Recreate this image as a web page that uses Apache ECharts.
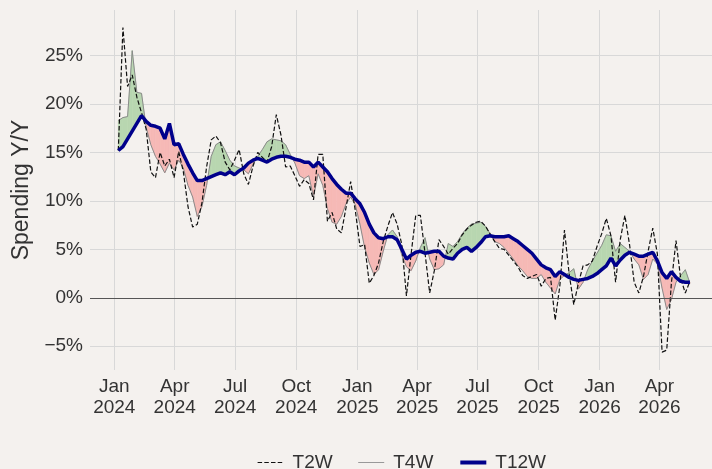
<!DOCTYPE html>
<html>
<head>
<meta charset="utf-8">
<script src="https://cdn.jsdelivr.net/npm/echarts@6/dist/echarts.min.js"></script>
<style>
html,body{margin:0;padding:0;background:#f4f1ee;}
#chart{width:712px;height:469px;}
</style>
</head>
<body>
<div id="chart"></div>
<script>
// ---- data (weekly, first week ending 2024-01-07) ----
const firstWeek = '2024-01-07';
const t2w = [15.2,27.9,21.8,23.0,20.7,19.1,17.4,13.0,12.4,15.0,13.6,14.3,12.4,15.1,13.0,9.4,7.3,7.6,9.8,13.5,
16.3,16.7,16.0,14.0,13.2,14.2,15.3,12.8,11.7,13.6,15.0,14.5,14.0,15.6,18.9,16.8,13.5,13.6,12.6,11.5,
12.2,11.8,10.1,14.8,14.8,7.9,8.8,7.1,6.7,9.3,12.0,9.0,5.3,5.5,1.5,2.3,3.6,5.8,7.4,8.8,
7.6,5.5,0.2,4.5,8.5,8.5,4.6,0.5,2.8,6.0,5.3,4.5,5.1,5.6,6.5,7.1,7.5,7.8,7.9,7.4,
6.6,5.8,5.1,5.0,4.4,3.8,3.2,2.3,2.0,2.2,2.4,1.2,2.0,2.1,-2.3,1.2,7.0,2.5,-0.7,1.5,
3.3,3.4,3.8,5.3,6.6,8.2,6.4,1.6,6.0,8.5,5.5,1.6,0.5,2.2,4.8,7.2,4.5,-5.6,-5.4,1.5,
5.9,2.0,0.5,1.7];
const t4w = [18.3,18.6,18.7,25.5,21.2,21.1,17.6,15.8,14.6,13.8,12.9,13.9,13.2,14.2,13.4,11.6,10.4,8.4,9.4,11.6,
14.6,15.8,16.1,15.2,14.2,13.6,13.4,13.2,12.8,13.8,14.6,15.3,16.1,16.4,16.3,16.2,15.8,14.8,13.9,12.6,
12.3,12.6,10.4,12.8,11.6,9.2,7.8,7.6,8.4,9.7,10.4,9.6,7.6,5.2,3.6,2.4,2.9,4.8,6.5,7.0,
6.3,4.4,3.2,2.8,3.8,5.2,6.2,4.0,2.9,3.0,3.4,5.6,5.3,5.8,6.6,7.2,7.6,7.7,7.8,7.4,
6.6,5.8,5.6,5.2,4.6,4.0,3.3,2.8,2.2,2.0,2.0,2.4,1.6,1.0,0.4,1.9,2.3,2.6,3.0,0.9,
1.6,2.9,3.8,4.6,5.4,6.5,6.4,4.8,5.6,5.2,4.8,4.0,3.4,1.9,2.4,4.0,3.5,1.0,-1.2,-0.2,
1.6,2.3,2.9,1.5];
const t12w = [15.2,15.6,16.4,17.2,18.0,18.8,18.2,17.8,17.7,17.5,16.4,18.0,15.8,15.9,14.8,13.8,12.9,12.1,12.1,12.3,
12.5,12.7,12.9,12.7,13.0,12.7,13.1,13.4,13.9,14.2,14.4,14.2,14.0,14.3,14.5,14.6,14.6,14.5,14.3,14.2,
14.0,14.0,13.5,14.0,13.5,13.0,12.3,11.7,11.2,10.8,10.8,10.2,9.7,8.8,7.6,6.7,6.2,6.1,6.3,6.3,
6.0,5.0,4.0,4.4,4.7,4.8,4.6,4.7,4.8,4.8,4.3,4.1,4.0,4.6,5.0,5.2,4.8,5.2,5.7,6.3,
6.4,6.3,6.3,6.3,6.4,6.1,5.8,5.4,5.0,4.6,4.0,3.4,3.1,2.9,2.2,2.7,2.4,2.1,1.9,1.8,
1.9,2.0,2.2,2.5,2.9,3.3,4.1,3.3,3.9,4.4,4.7,4.5,4.3,4.3,4.5,4.7,3.8,2.6,2.0,2.7,
2.1,1.7,1.6,1.6];
const xTickDates = ['2024-01-01','2024-04-01','2024-07-01','2024-10-01','2025-01-01','2025-04-01','2025-07-01','2025-10-01','2026-01-01','2026-04-01'];
const xTickLabels = ['Jan\n2024','Apr\n2024','Jul\n2024','Oct\n2024','Jan\n2025','Apr\n2025','Jul\n2025','Oct\n2025','Jan\n2026','Apr\n2026'];
const yTicks = [-5,0,5,10,15,20,25];

// ---- helpers ----
const DAY = 86400000;
const origin = Date.UTC(2024,0,1);
function dayOf(s){ const p = s.split('-').map(Number); return (Date.UTC(p[0],p[1]-1,p[2]) - origin)/DAY; }
const start = dayOf(firstWeek);
const weeks = t12w.map((_, i) => new Date(origin + (start + i*7)*DAY).toISOString().slice(0,10));
const xs = weeks.map(dayOf);
const tickDays = xTickDates.map(dayOf);

const GREEN = '#b8d6b0';
const RED = '#f6b9b6';
const FONT = '"Liberation Sans", Arial, sans-serif';

const fillData = xs.slice(0, -1).map((x, i) => [x, t12w[i], i]);

const chart = echarts.init(document.getElementById('chart'), null, {renderer: 'canvas'});
chart.setOption({
  backgroundColor: '#f4f1ee',
  animation: false,
  textStyle: {fontFamily: FONT},
  grid: {left: 90, right: 0, top: 10, bottom: 99},
  legend: {
    left: 252, top: 448,
    itemWidth: 26, itemHeight: 14, itemGap: 25,
    itemStyle: {opacity: 0},
    textStyle: {fontSize: 19, color: '#333', fontFamily: FONT, padding: [0, 0, 0, 4]},
    data: [
      {name: 'T2W', lineStyle: {width: 1.2}},
      {name: 'T4W', lineStyle: {width: 1, color: '#999'}},
      {name: 'T12W', lineStyle: {width: 4}}
    ]
  },
  xAxis: {
    type: 'value', min: -36.6, max: 900.2,
    axisLine: {show: false},
    axisTick: {show: false, customValues: tickDays},
    splitLine: {show: true, lineStyle: {color: '#d8d8d8', width: 1}},
    axisLabel: {
      customValues: tickDays, margin: 6,
      fontSize: 19, color: '#333', lineHeight: 21, fontFamily: FONT,
      formatter: v => { const k = tickDays.findIndex(t => Math.abs(t - v) < 0.01); return k >= 0 ? xTickLabels[k] : ''; }
    }
  },
  yAxis: {
    type: 'value', min: -7.45, max: 29.7,
    name: 'Spending Y/Y', nameLocation: 'middle', nameGap: 51,
    nameTextStyle: {fontSize: 23, color: '#333', fontFamily: FONT},
    axisLine: {show: false},
    axisTick: {show: false, customValues: yTicks},
    splitLine: {show: true, lineStyle: {color: '#d8d8d8', width: 1}},
    axisLabel: {
      customValues: yTicks, margin: 7,
      fontSize: 19, color: '#333', fontFamily: FONT,
      formatter: v => (v < 0 ? '\u2212' : '') + Math.abs(v) + '%'
    }
  },
  series: [
    {
      type: 'custom', name: 'fill', z: 1, clip: true, silent: true,
      data: fillData, encode: {x: 0, y: 1},
      renderItem: function (params, api) {
        const i = api.value(2);
        const x0 = xs[i], x1 = xs[i + 1];
        const a4 = t4w[i], b4 = t4w[i + 1], a12 = t12w[i], b12 = t12w[i + 1];
        const d0 = a4 - a12, d1 = b4 - b12;
        const P = (x, y) => api.coord([x, y]);
        const polys = [];
        if (d0 * d1 >= 0) {
          polys.push({pts: [P(x0, a4), P(x1, b4), P(x1, b12), P(x0, a12)], up: (d0 + d1) >= 0});
        } else {
          const f = d0 / (d0 - d1);
          const xc = x0 + f * (x1 - x0), yc = a12 + f * (b12 - a12);
          polys.push({pts: [P(x0, a4), P(xc, yc), P(x0, a12)], up: d0 > 0});
          polys.push({pts: [P(xc, yc), P(x1, b4), P(x1, b12)], up: d1 > 0});
        }
        return {
          type: 'group',
          children: polys.map(p => ({
            type: 'polygon', shape: {points: p.pts},
            style: {fill: p.up ? GREEN : RED, stroke: p.up ? GREEN : RED, lineWidth: 0.6}
          }))
        };
      }
    },
    {
      name: 'T2W', type: 'line', z: 3, symbol: 'none', showSymbol: false,
      data: xs.map((x, i) => [x, t2w[i]]),
      lineStyle: {color: '#111', width: 1.2, type: [4.5, 2.2]},
      itemStyle: {color: '#111'},
      markLine: {
        silent: true, symbol: 'none', label: {show: false},
        lineStyle: {color: '#555', width: 1.2, type: 'solid'},
        data: [{yAxis: 0}]
      }
    },
    {
      name: 'T4W', type: 'line', z: 2, symbol: 'none', showSymbol: false,
      data: xs.map((x, i) => [x, t4w[i]]),
      lineStyle: {color: '#8a8a8a', width: 1},
      itemStyle: {color: '#8a8a8a'}
    },
    {
      name: 'T12W', type: 'line', z: 4, symbol: 'none', showSymbol: false,
      data: xs.map((x, i) => [x, t12w[i]]),
      lineStyle: {color: '#00008b', width: 3.5},
      itemStyle: {color: '#00008b'}
    }
  ]
});
</script>
</body>
</html>
